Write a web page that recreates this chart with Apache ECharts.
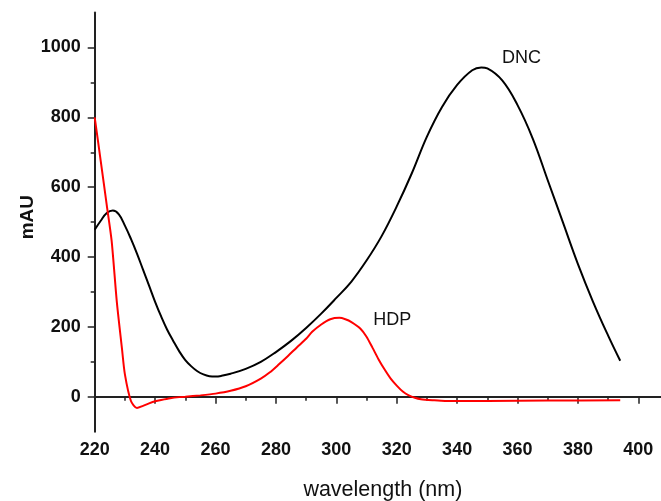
<!DOCTYPE html>
<html><head><meta charset="utf-8">
<script src="https://cdn.jsdelivr.net/npm/echarts@6/dist/echarts.min.js"></script>
<style>html,body{margin:0;padding:0;background:#fff}#c{width:661px;height:501px}</style>
</head><body><div id="c"></div>
<script>
const dncWavelength = [220,222,224,226,228,230,232,234,236,238,240,242,244,246,248,250,252,254,256,258,260,262,265,270,275,280,285,290,295,300,305,310,315,320,325,330,335,340,345,348,350,355,360,365,370,375,380,385,390,394];
const dncValues = [478,504,526,533,522,490,452,410,364,318,272,230,192,160,130,105,87,73,64,59,58,60,66,80,100,128,160,197,238,283,330,390,460,545,640,745,830,893,935,943,940,905,835,740,620,500,380,272,175,103];
const hdpWavelength = [220,222,224,225.6,227.3,229,230,232,234,236,238,240,242,245,248,250,255,260,265,270,275,278,281,284,287,290,292,295,298,301,303,305,308,310,312,314,316,318,320,322,324,326,328,332,336,350,370,394];
const hdpValues = [800,675,548,447,274,140,64,-12,-32,-26,-19,-13,-9,-4,-1,0,4,9,17,30,52,70,93,117,142,166,186,207,222,226,222,214,195,172,140,107,78,52,32,15,4,-3,-7,-10,-12,-12,-11,-10];
const xMajorTicks = [220,240,260,280,300,320,340,360,380,400];
const xMinorTicks = [230,250,270,290,310,330,350,370,390];
const yMajorTicks = [0,200,400,600,800,1000];
const yMinorTicks = [100,300,500,700,900];
const dncLabelAt = [361.3, 970];
const hdpLabelAt = [318.5, 219];

const zip = (xs, ys) => xs.map((x, i) => [x, ys[i]]);
const FONT = '"Liberation Sans", Arial, sans-serif';
const AX = '#222';
const plain = v => String(v);

const chart = echarts.init(document.getElementById('c'), null, {renderer: 'canvas'});
const xBase = {type: 'value', min: 220, max: 407.5, gridIndex: 0, splitLine: {show: false}};
const yBase = {type: 'value', min: -100, max: 1100, gridIndex: 0, splitLine: {show: false}};
chart.setOption({
  animation: false,
  backgroundColor: '#fff',
  grid: {left: 94.7, right: 0, top: 12.6, bottom: 69.3, containLabel: false, outerBoundsMode: 'none'},
  xAxis: [
    Object.assign({}, xBase, {
      position: 'bottom',
      name: 'wavelength (nm)', nameLocation: 'middle', nameGap: 47, nameMoveOverlap: false,
      nameTextStyle: {fontFamily: FONT, fontSize: 21.5, color: '#111', padding: [0, 0, 0, 10]},
      axisLine: {show: true, lineStyle: {color: AX, width: 2}},
      axisTick: {show: true, length: 7, lineStyle: {color: AX, width: 1.5}, customValues: xMajorTicks},
      axisLabel: {show: true, margin: 9, fontFamily: FONT, fontSize: 18, fontWeight: 'bold', color: '#111', customValues: xMajorTicks, formatter: plain}
    }),
    Object.assign({}, xBase, {
      position: 'bottom',
      axisLine: {show: false},
      axisTick: {show: true, length: 4, lineStyle: {color: AX, width: 1.5}, customValues: xMinorTicks},
      axisLabel: {show: false}
    })
  ],
  yAxis: [
    Object.assign({}, yBase, {
      position: 'left',
      name: 'mAU', nameLocation: 'middle', nameGap: 57, nameRotate: 90, nameMoveOverlap: false,
      nameTextStyle: {fontFamily: FONT, fontSize: 19, fontWeight: 'bold', color: '#111', padding: [0, 0, 0, 10]},
      axisLine: {show: true, lineStyle: {color: AX, width: 2}},
      axisTick: {show: true, length: 7, lineStyle: {color: AX, width: 1.5}, customValues: yMajorTicks},
      axisLabel: {show: true, margin: 14, fontFamily: FONT, fontSize: 18, fontWeight: 'bold', color: '#111', customValues: yMajorTicks, formatter: plain}
    }),
    Object.assign({}, yBase, {
      position: 'left',
      axisLine: {show: false},
      axisTick: {show: true, length: 4, lineStyle: {color: AX, width: 1.5}, customValues: yMinorTicks},
      axisLabel: {show: false}
    })
  ],
  series: [
    {
      name: 'DNC', type: 'line', xAxisIndex: 0, yAxisIndex: 0,
      data: zip(dncWavelength, dncValues),
      showSymbol: false, smooth: 0.4,
      lineStyle: {color: '#000', width: 2}, itemStyle: {color: '#000'},
      markPoint: {
        symbol: 'circle', symbolSize: 0, silent: true,
        label: {show: true, position: 'inside', formatter: 'DNC', fontFamily: FONT, fontSize: 18, color: '#111'},
        data: [{coord: dncLabelAt}]
      }
    },
    {
      name: 'HDP', type: 'line', xAxisIndex: 0, yAxisIndex: 0,
      data: zip(hdpWavelength, hdpValues),
      showSymbol: false, smooth: 0.25,
      lineStyle: {color: '#ff0000', width: 2}, itemStyle: {color: '#ff0000'},
      markPoint: {
        symbol: 'circle', symbolSize: 0, silent: true,
        label: {show: true, position: 'inside', formatter: 'HDP', fontFamily: FONT, fontSize: 18, color: '#111'},
        data: [{coord: hdpLabelAt}]
      }
    }
  ]
});
</script>
</body></html>
